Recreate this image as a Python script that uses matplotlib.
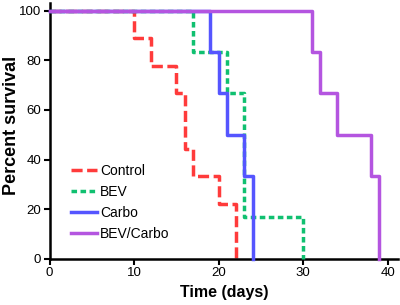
import matplotlib
matplotlib.use("Agg")
import matplotlib.pyplot as plt

plt.rcParams['font.family'] = ['Liberation Sans', 'DejaVu Sans']

# survival curves: (event day, percent surviving after it)
control_days = [0, 10, 12, 15, 16, 17, 20, 22]
control_pct = [100, 88.9, 77.8, 66.7, 44.4, 33.3, 22.2, 0]
bev_days = [0, 17, 21, 23, 30]
bev_pct = [100, 83.3, 66.7, 16.7, 0]
carbo_days = [0, 19, 20, 21, 23, 24]
carbo_pct = [100, 83.3, 66.7, 50, 33.3, 0]
combo_days = [0, 31, 32, 34, 38, 39]
combo_pct = [100, 83.3, 66.7, 50, 33.3, 0]

x_ticks = [0, 10, 20, 30, 40]
y_ticks = [0, 20, 40, 60, 80, 100]

fig = plt.figure(figsize=(4.0, 3.05), dpi=100)
ax = fig.add_axes([0.124, 0.151, 0.871, 0.839])

ax.step(control_days, control_pct, where='post', color='#FF3B3B', lw=2.5,
        ls=(0, (3.2, 1.3)), label='Control', clip_on=False, zorder=2)
ax.step(bev_days, bev_pct, where='post', color='#10C070', lw=2.5,
        ls=(0, (1.6, 1.0)), label='BEV', clip_on=False, zorder=3)
ax.step(carbo_days, carbo_pct, where='post', color='#5555FF', lw=2.5,
        label='Carbo', clip_on=False, zorder=4)
ax.step(combo_days, combo_pct, where='post', color='#B455E0', lw=2.5,
        label='BEV/Carbo', clip_on=False, zorder=5)

ax.set_xlim(0, 41.2)
ax.set_ylim(0, 103)
ax.set_xticks(x_ticks)
ax.set_yticks(y_ticks)
ax.tick_params(direction='out', length=4, width=1.5, labelsize=9.5, pad=2)

for side in ['top', 'right']:
    ax.spines[side].set_visible(False)
for side in ['left', 'bottom']:
    ax.spines[side].set_linewidth(1.8)

ax.set_xlabel('Time (days)', fontsize=11.5, fontweight='bold', labelpad=4)
ax.set_ylabel('Percent survival', fontsize=13, fontweight='bold')
ax.yaxis.set_label_coords(-0.086, 0.52)

ax.legend(loc='lower left', bbox_to_anchor=(0.045, 0.05),
          frameon=False, fontsize=10, handlelength=1.85, handletextpad=0.25,
          labelspacing=0.5, borderaxespad=0)

fig.savefig('out.png', dpi=100)
